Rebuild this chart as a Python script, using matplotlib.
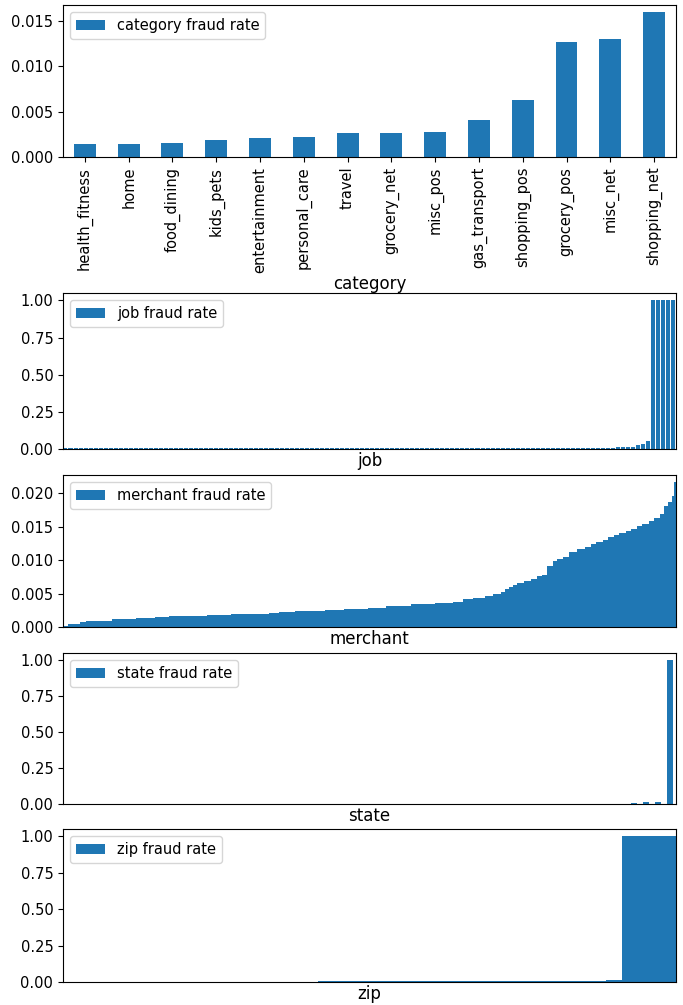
import numpy as np
import matplotlib.pyplot as plt

# fraud rate per category, sorted ascending
categories = ['health_fitness', 'home', 'food_dining', 'kids_pets', 'entertainment',
              'personal_care', 'travel', 'grocery_net', 'misc_pos', 'gas_transport',
              'shopping_pos', 'grocery_pos', 'misc_net', 'shopping_net']
category_rate = [0.00146, 0.00146, 0.00157, 0.0019, 0.0021, 0.00225, 0.00268,
                 0.00268, 0.00279, 0.00411, 0.00631, 0.01268, 0.01301, 0.01598]

# sorted rates for the high-cardinality columns, stored as runs:
# (rate level, number of groups at that level)
job_levels = [0.005, 0.01, 0.015, 0.025, 0.035, 0.055, 1.0]
job_counts = [81, 29, 4, 1, 1, 1, 5]

merchant_levels = [0.0001, 0.00045, 0.0008, 0.00095, 0.0012, 0.0014, 0.0015, 0.0017,
                   0.0018, 0.0019, 0.0021, 0.0022, 0.0024, 0.0025, 0.0027, 0.0029,
                   0.0031, 0.0032, 0.0034, 0.0036, 0.0038,
                   0.0042, 0.0044, 0.0046, 0.0049, 0.0053, 0.0056, 0.0059, 0.0062,
                   0.0066, 0.0068, 0.0071, 0.0076, 0.0078,
                   0.0091, 0.0098, 0.0101, 0.0105, 0.0112, 0.0116, 0.0120, 0.0124,
                   0.0127, 0.0130, 0.0134, 0.0137, 0.0140, 0.0143, 0.0147, 0.0151,
                   0.0154, 0.0158, 0.0163, 0.0168, 0.0180, 0.0186, 0.0195, 0.0216]
merchant_counts = [6, 13, 7, 29, 27, 22, 16, 43,
                   27, 43, 11, 18, 34, 22, 27, 20,
                   18, 11, 27, 20, 11,
                   12, 13, 9, 9, 5, 4, 5, 4,
                   8, 8, 7, 6, 5,
                   7, 4, 7, 7, 9, 9, 7, 6,
                   7, 6, 7, 6, 7, 6, 7, 6,
                   7, 6, 7, 4, 5, 4, 3, 2]

state_rate = [0, 0, 0, 0, 0, 0, 0, 0, 0, 0,
              0, 0, 0, 0, 0, 0, 0, 0, 0, 0,
              0, 0, 0, 0, 0, 0, 0, 0, 0, 0,
              0, 0, 0, 0, 0, 0, 0, 0, 0, 0,
              0, 0, 0, 0, 0, 0, 0, 0.006, 0.012, 0.012,
              1.0]

zip_levels = [0.0, 0.004, 0.009, 0.016, 1.0]
zip_counts = [410, 349, 114, 26, 86]

job_rate = np.repeat(job_levels, job_counts)
merchant_rate = np.repeat(merchant_levels, merchant_counts)
zip_rate = np.repeat(zip_levels, zip_counts)

fig = plt.figure(figsize=(6.83, 10.05), dpi=100)
left, width = 0.0922, 0.8975
ax_cat = fig.add_axes([left, 0.8438, width, 0.1512])
ax_job = fig.add_axes([left, 0.5532, width, 0.1552])
ax_mer = fig.add_axes([left, 0.3761, width, 0.1512])
ax_sta = fig.add_axes([left, 0.2000, width, 0.1502])
ax_zip = fig.add_axes([left, 0.0229, width, 0.1522])


def rate_bars(ax, values, name, width=0.5):
    x = np.arange(len(values))
    ax.bar(x, values, width=width, color='C0', label=name + ' fraud rate')
    ax.set_xlim(-0.5, len(values) - 0.5)
    ax.set_ylim(0, max(values) * 1.05)
    ax.set_xlabel(name, fontsize=12, labelpad=2)
    ax.legend(loc='upper left', fontsize=10.5)
    ax.tick_params(axis='y', labelsize=10.5)


rate_bars(ax_cat, category_rate, 'category')
ax_cat.set_xticks(np.arange(len(categories)))
ax_cat.set_xticklabels(categories, rotation=90, fontsize=10.5)
ax_cat.set_yticks([0.0, 0.005, 0.010, 0.015])
ax_cat.set_yticklabels(['0.000', '0.005', '0.010', '0.015'])

rate_bars(ax_job, job_rate, 'job', width=0.8)
rate_bars(ax_mer, merchant_rate, 'merchant', width=1.0)
rate_bars(ax_sta, state_rate, 'state')
rate_bars(ax_zip, zip_rate, 'zip', width=1.0)

for ax in (ax_job, ax_sta, ax_zip):
    ax.set_yticks([0, 0.25, 0.5, 0.75, 1.0])
    ax.set_yticklabels(['0.00', '0.25', '0.50', '0.75', '1.00'])
ax_mer.set_yticks([0, 0.005, 0.010, 0.015, 0.020])
ax_mer.set_yticklabels(['0.000', '0.005', '0.010', '0.015', '0.020'])

for ax in (ax_job, ax_mer, ax_sta, ax_zip):
    ax.set_xticks([])

fig.savefig('out.png', dpi=100)
